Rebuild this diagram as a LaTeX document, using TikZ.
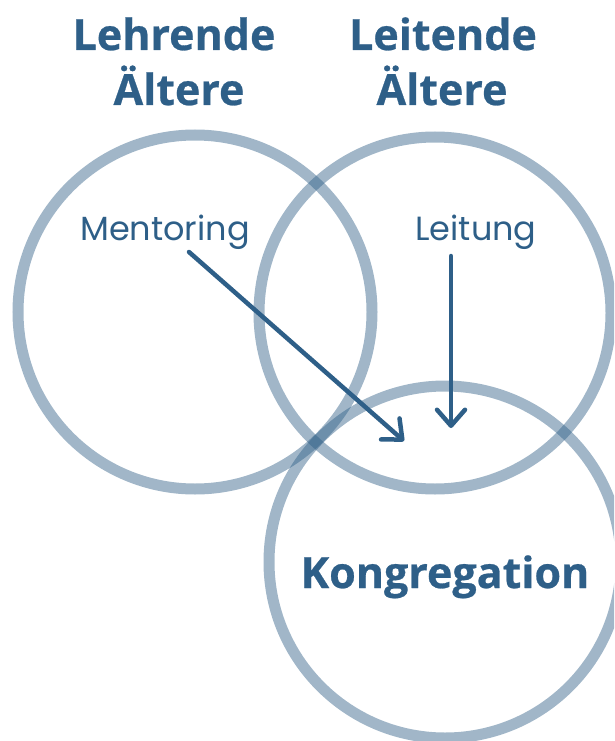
\documentclass[tikz,border=0pt]{standalone}
\usepackage{fontspec}
\setmainfont{Open Sans}[BoldFeatures={FakeBold=0.6}]
\newfontfamily\labelfont{Poppins}
\usetikzlibrary{arrows.meta}
\definecolor{navy}{HTML}{2E5F88}
\definecolor{ring}{HTML}{2E5E86}
\tikzset{
  ringstyle/.style={draw=ring, draw opacity=0.45, line width=11pt},
  title/.style={text=navy, font=\fontsize{43}{43}\selectfont\bfseries, anchor=base, inner sep=0pt},
  tag/.style={text=navy, font=\labelfont\fontsize{33.5}{33.5}\selectfont, anchor=base, inner sep=0pt},
  flow/.style={draw=navy, line width=4.5pt, line cap=round,
    -{Straight Barb[length=16pt,width=28pt,line cap=round,line join=round]}}
}
\begin{document}
\begin{tikzpicture}[x=1pt,y=-1pt]
  \useasboundingbox (0,0) rectangle (614,741);
  \clip (0,0) rectangle (614,741);

  % the three rings
  \draw[ringstyle] (195,312) circle (177);
  \draw[ringstyle] (435,313) circle (176);
  \draw[ringstyle] (445,562) circle (176);

  % headings above the rings
  \node[title] (lehr1) at (174,50) {Lehrende};
  \node[title] (lehr2) at (179,105) {Ältere};
  \node[title] (leit1) at (443,50) {Leitende};
  \node[title] (leit2) at (442,105) {Ältere};
  \node[title] (kong) at (445,588) {Kongregation};

  % inner labels
  \node[tag] (ment) at (165,240) {Mentoring};
  \node[tag] (leitg) at (476,240) {Leitung};

  % arrows into the congregation
  \coordinate (mtip) at (404,441);
  \coordinate (ltip) at (451,428);
  \coordinate (mstart) at (189,252);
  \coordinate (lstart) at (451,256);
  \draw[flow] (mstart) -- (mtip);
  \draw[flow] (lstart) -- (ltip);
\end{tikzpicture}
\end{document}
